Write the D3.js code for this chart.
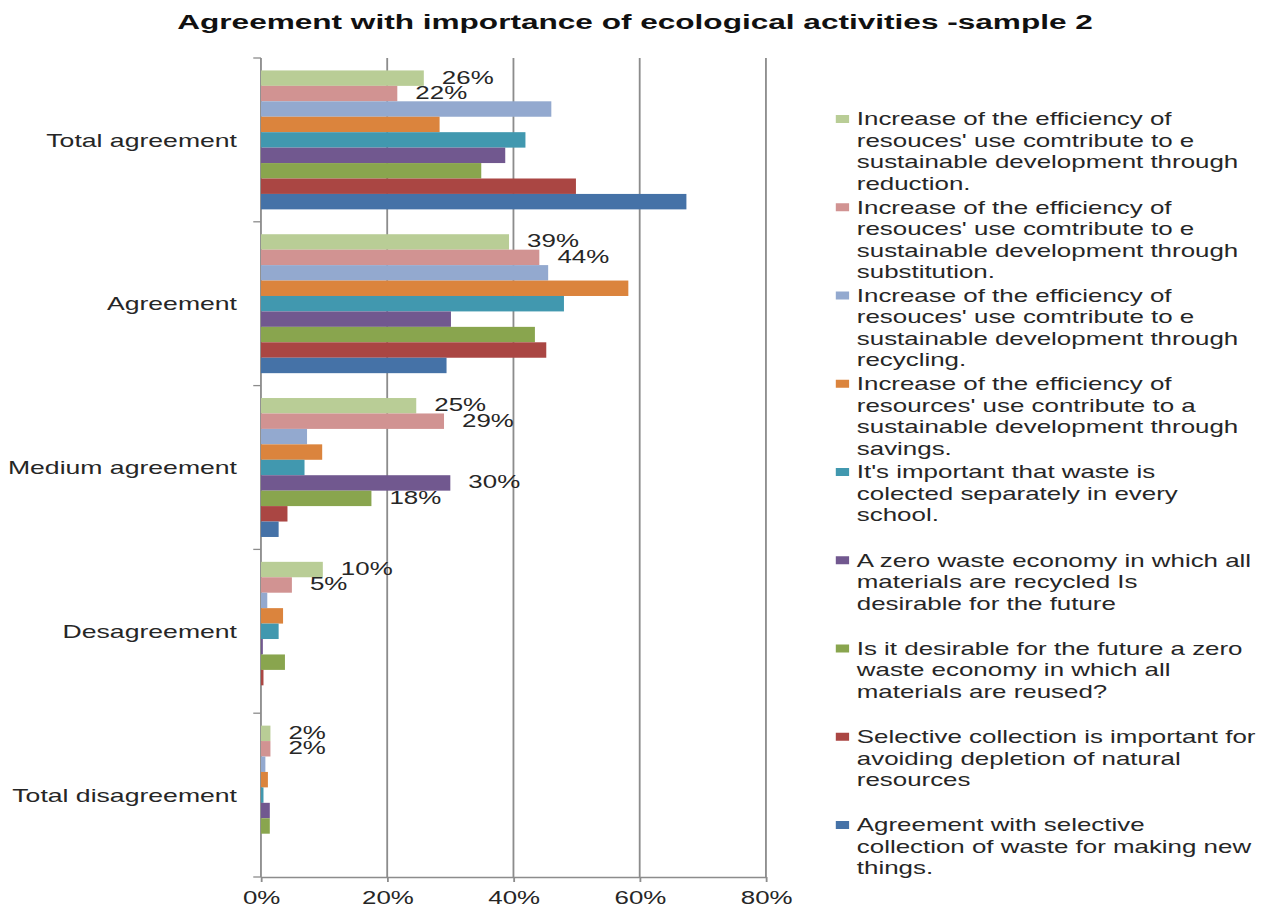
<!DOCTYPE html>
<html lang="en">
<head>
<meta charset="UTF-8">
<title>Agreement with importance of ecological activities -sample 2</title>
<script src="https://cdnjs.cloudflare.com/ajax/libs/d3/7.8.5/d3.min.js"></script>
<style>
    body {
        margin: 0;
        background: #fff;
    }
    svg {
        display: block;
        font-family: "Liberation Sans", Arial, sans-serif;
    }
    .title {
        font-size: 20px;
        font-weight: bold;
        fill: #111;
    }
    .cat-label, .tick-label, .bar-label, .legend text {
        font-size: 18.5px;
        fill: #262626;
    }
    .cat-label {
        font-size: 19px;
    }
    .axis-line {
        stroke: #8c8c8c;
        stroke-width: 1.3px;
        fill: none;
    }
</style>
</head>
<body>
<div id="chart"></div>
<script>
    // categories, top to bottom
    const categories = ["Total agreement", "Agreement", "Medium agreement", "Desagreement", "Total disagreement"];

    // values in %, one per category
    const reduction    = [25.8, 39.3, 24.6, 9.8, 1.5];
    const substitution = [21.6, 44.1, 29.0, 4.9, 1.5];
    const recycling    = [46.0, 45.5, 7.3, 1.0, 0.7];
    const savings      = [28.3, 58.2, 9.7, 3.5, 1.1];
    const school       = [41.9, 48.0, 6.9, 2.8, 0.4];
    const recycled     = [38.7, 30.1, 30.0, 0.3, 1.4];
    const reused       = [34.9, 43.4, 17.5, 3.8, 1.4];
    const depletion    = [49.9, 45.2, 4.2, 0.4, 0];
    const newThings    = [67.4, 29.4, 2.8, 0, 0];

    const seriesValues = [reduction, substitution, recycling, savings, school, recycled, reused, depletion, newThings];

    const seriesColors = ["#B9CD96", "#D19392", "#93A9CF", "#DB843D", "#4198AF", "#71588F", "#89A54E", "#AA4643", "#4572A7"];

    const legendLines = [
        ["Increase of the efficiency of", "resouces' use comtribute to e", "sustainable development through", "reduction."],
        ["Increase of the efficiency of", "resouces' use comtribute to e", "sustainable development through", "substitution."],
        ["Increase of the efficiency of", "resouces' use comtribute to e", "sustainable development through", "recycling."],
        ["Increase of the efficiency of", "resources' use contribute to a", "sustainable development through", "savings."],
        ["It's important that waste is", "colected separately in every", "school."],
        ["A zero waste economy in which all", "materials are recycled Is", "desirable for the future"],
        ["Is it desirable for the future a zero", "waste economy in which all", "materials are reused?"],
        ["Selective collection is important for", "avoiding depletion of natural", "resources"],
        ["Agreement with selective", "collection of waste for making new", "things."]
    ];

    const tickValues = [0, 20, 40, 60, 80];

    // [series, category] pairs that carry a data label
    const labelledBars = [[0, 0], [1, 0], [0, 1], [1, 1], [0, 2], [1, 2], [5, 2], [6, 2], [0, 3], [1, 3], [0, 4], [1, 4]];

    // the original picture is stretched sideways, so draw narrow and stretch the svg
    const stretch = 1.4;
    const W = 1270, H = 909;
    const w = W / stretch;

    const svg = d3.select("#chart")
        .append("svg")
        .attr("width", W)
        .attr("height", H)
        .attr("viewBox", `0 0 ${w} ${H}`)
        .attr("preserveAspectRatio", "none");

    const x = d3.scaleLinear().domain([0, 80]).range([186.4, 547.1]);
    const y0 = d3.scaleBand().domain(categories).range([58, 877]);
    const y1 = d3.scaleBand().domain(d3.range(seriesValues.length))
        .range([0, y0.bandwidth()])
        .paddingInner(0)
        .paddingOuter(0.805);

    svg.append("text")
        .attr("class", "title")
        .attr("x", 453.6)
        .attr("y", 29)
        .attr("text-anchor", "middle")
        .attr("textLength", 654)
        .attr("lengthAdjust", "spacingAndGlyphs")
        .text("Agreement with importance of ecological activities -sample 2");

    // vertical gridlines
    svg.append("g")
        .selectAll("line")
        .data(tickValues.slice(1))
        .join("line")
        .attr("class", "axis-line")
        .attr("x1", d => x(d)).attr("x2", d => x(d))
        .attr("y1", y0.range()[0]).attr("y2", y0.range()[1]);

    // bottom axis
    const xAxis = svg.append("g")
        .attr("transform", `translate(0,${y0.range()[1]})`)
        .call(d3.axisBottom(x).tickValues(tickValues).tickSize(5).tickSizeOuter(0).tickFormat(d => d + "%"));
    xAxis.select(".domain").attr("class", "axis-line");
    xAxis.selectAll(".tick line").attr("class", "axis-line");
    xAxis.selectAll(".tick text")
        .attr("class", "tick-label")
        .attr("dy", null)
        .attr("y", 27)
        .attr("font-family", null)
        .attr("font-size", null);
    xAxis.attr("font-family", null).attr("font-size", null);

    // left axis with ticks between categories
    const yAxis = svg.append("g");
    yAxis.append("line")
        .attr("class", "axis-line")
        .attr("x1", x(0)).attr("x2", x(0))
        .attr("y1", y0.range()[0]).attr("y2", y0.range()[1]);
    const bounds = categories.map(c => y0(c)).concat([y0.range()[1]]);
    yAxis.selectAll("line.tk")
        .data(bounds)
        .join("line")
        .attr("class", "axis-line tk")
        .attr("x1", x(0) - 5.5).attr("x2", x(0))
        .attr("y1", d => d).attr("y2", d => d);

    svg.append("g")
        .selectAll("text")
        .data(categories)
        .join("text")
        .attr("class", "cat-label")
        .attr("x", 169.3)
        .attr("y", d => y0(d) + y0.bandwidth() / 2)
        .attr("dy", "0.35em")
        .attr("text-anchor", "end")
        .text(d => d);

    // bars
    const groups = svg.append("g")
        .selectAll("g")
        .data(categories)
        .join("g")
        .attr("transform", d => `translate(0,${y0(d)})`);

    groups.selectAll("rect")
        .data((d, ci) => seriesValues.map((vals, si) => ({si, v: vals[ci]})))
        .join("rect")
        .attr("x", x(0))
        .attr("y", d => y1(d.si))
        .attr("width", d => x(d.v) - x(0))
        .attr("height", y1.bandwidth())
        .attr("fill", d => seriesColors[d.si]);

    // data labels
    svg.append("g")
        .selectAll("text")
        .data(labelledBars)
        .join("text")
        .attr("class", "bar-label")
        .attr("x", d => x(seriesValues[d[0]][d[1]]) + 12.9)
        .attr("y", d => y0(categories[d[1]]) + y1(d[0]) + y1.bandwidth() / 2 - 1)
        .attr("dy", "0.35em")
        .text(d => Math.round(seriesValues[d[0]][d[1]]) + "%");

    // legend
    const legend = svg.append("g").attr("class", "legend");
    const rows = legend.selectAll("g")
        .data(legendLines)
        .join("g")
        .attr("transform", (d, i) => `translate(597,${119 + i * 88.25})`);

    rows.append("rect")
        .attr("x", 0)
        .attr("y", -4)
        .attr("width", 9.5)
        .attr("height", 8)
        .attr("fill", (d, i) => seriesColors[i]);

    rows.selectAll("text")
        .data(d => d)
        .join("text")
        .attr("x", 15)
        .attr("y", (d, j) => j * 21.5)
        .attr("dy", "0.35em")
        .text(d => d);
</script>
</body>
</html>
